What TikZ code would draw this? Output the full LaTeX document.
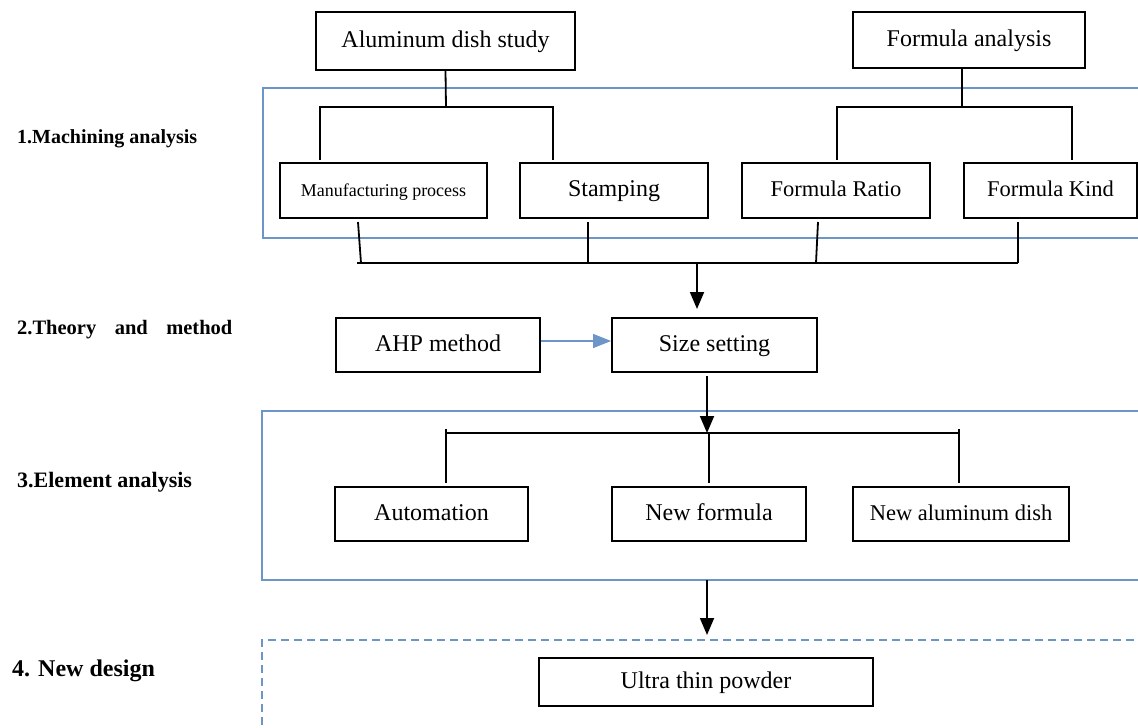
\documentclass[tikz,border=0pt]{standalone}
\usepackage{fontspec}
\setmainfont{Liberation Serif}
\usetikzlibrary{arrows.meta}
\definecolor{frameblue}{RGB}{108,150,200}
\begin{document}
\begin{tikzpicture}[x=1pt,y=-1pt,
  box/.style={draw=black, line width=1.8pt, inner sep=0pt, align=center,
              text height=17pt, text depth=5pt,
              font=\fontsize{24}{28}\selectfont},
  midfont/.style={font=\fontsize{22.5}{26}\selectfont},
  smallfont/.style={font=\fontsize{18}{22}\selectfont},
  link/.style={draw=black, line width=1.8pt},
  arr/.style={link, -{Triangle[length=17pt,width=14pt]}},
  bluearr/.style={draw=frameblue, line width=1.5pt, -{Triangle[length=18pt,width=14pt]}},
  frame/.style={draw=frameblue, line width=1.5pt},
  stage/.style={anchor=west, inner sep=0pt, font=\bfseries\fontsize{20}{24}\selectfont},
]
\clip (0,0) rectangle (1138,728);

% stage captions
\node[stage] (s1) at (17,139) {1.Machining analysis};
\node[stage, font=\bfseries\fontsize{20.5}{24}\selectfont] (s2) at (17,330) {2.Theory\hspace{0.9em}and\hspace{0.9em}method};
\node[stage, font=\bfseries\fontsize{22}{26}\selectfont] (s3) at (17,482) {3.Element analysis};
\node[stage, font=\bfseries\fontsize{24}{28}\selectfont] (s4) at (12,671) {4. New design};

% stage frames
\draw[frame] (263,88) rectangle (1160,238);
\draw[frame] (262,411) rectangle (1160,580);
\draw[frame, dash pattern=on 8pt off 5pt] (1160,640) -- (262,640) -- (262,740);

% top level
\node[box, minimum width=259pt, minimum height=58pt] (alu) at (445.5,41) {Aluminum dish study};
\node[box, minimum width=232pt, minimum height=56pt] (fa) at (969,40) {Formula analysis};

% machining analysis row
\node[box, smallfont, minimum width=207pt, minimum height=55pt] (mp) at (383.5,190.5) {Manufacturing process};
\node[box, minimum width=188pt, minimum height=55pt] (st) at (614,190.5) {Stamping};
\node[box, midfont, minimum width=188pt, minimum height=55pt] (fr) at (836,190.5) {Formula Ratio};
\node[box, midfont, minimum width=173pt, minimum height=55pt] (fk) at (1050.5,190.5) {Formula Kind};

% branches from the top level
\coordinate (aluBar) at (446,107);
\coordinate (mpIn) at (320,160);
\coordinate (stIn) at (553,160);
\draw[link] (alu.south) -- (aluBar);
\draw[link] (mpIn) -- (mpIn |- aluBar) -- (stIn |- aluBar) -- (stIn);

\coordinate (faBar) at (962,107);
\coordinate (frIn) at (837,160);
\coordinate (fkIn) at (1072,160);
\draw[link] (fa.south -| faBar) -- (faBar);
\draw[link] (frIn) -- (frIn |- faBar) -- (fkIn |- faBar) -- (fkIn);

% collecting line below the machining row
\coordinate (mpOut) at (358,222);
\coordinate (stOut) at (588,222);
\coordinate (frOut) at (818,222);
\coordinate (fkOut) at (1018,222);
\coordinate (colL) at (357,263);
\coordinate (colR) at (1018,263);
\draw[link] (mpOut) -- (361,263);
\draw[link] (stOut) -- (588,263);
\draw[link] (frOut) -- (816,263);
\draw[link] (fkOut) -- (colR);
\draw[link] (colL) -- (colR);

% theory and method
\node[box, minimum width=204pt, minimum height=54pt] (ahp) at (438,345) {AHP method};
\node[box, minimum width=205pt, minimum height=54pt] (ss) at (714.5,345) {Size setting};

\coordinate (colMid) at (697,263);
\coordinate (ssIn) at (697,309);
\draw[arr] (colMid) -- (ssIn);
\draw[bluearr] ([yshift=4pt]ahp.east) -- ([yshift=4pt]ss.west);

% element analysis
\node[box, minimum width=193pt, minimum height=54pt] (au) at (431.5,514) {Automation};
\node[box, minimum width=194pt, minimum height=54pt] (nf) at (709,514) {New formula};
\node[box, midfont, minimum width=216pt, minimum height=54pt] (nad) at (961,514) {New aluminum dish};

\coordinate (ssOut) at (707,376);
\coordinate (elBar) at (707,433);
\draw[arr] (ssOut) -- (elBar);
\coordinate (auIn) at (446,483);
\coordinate (nfIn) at (709,483);
\coordinate (nadIn) at (959,483);
\draw[link] (445,433) -- (960,433);
\draw[link] (446,429) -- (auIn);
\draw[link] (709,433) -- (nfIn);
\draw[link] (959,429) -- (nadIn);

% new design
\node[box, minimum width=334pt, minimum height=48pt] (utp) at (706,682) {Ultra thin powder};
\coordinate (elOut) at (707,580);
\coordinate (ndIn) at (707,635);
\draw[arr] (elOut) -- (ndIn);
\end{tikzpicture}
\end{document}
